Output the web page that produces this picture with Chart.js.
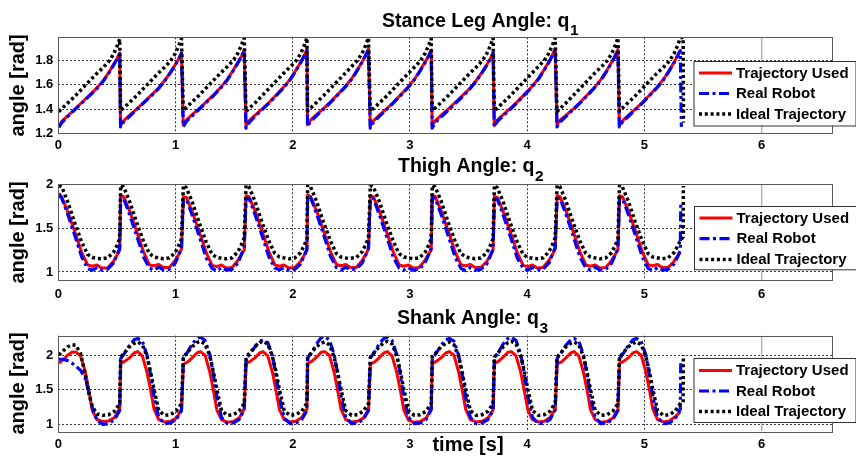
<!DOCTYPE html>
<html>
<head>
<meta charset="utf-8">
<title>Stance, thigh and shank angles</title>
<script src="https://cdn.jsdelivr.net/npm/chart.js@4.4.0/dist/chart.umd.min.js"></script>
<style>
  body { margin: 0; background: #fff; }
  #wrap { position: relative; width: 856px; height: 457px; overflow: hidden; background: #fff; }
  canvas { position: absolute; left: 0; }
</style>
</head>
<body>
<div id="wrap">
  <canvas id="c1" width="856" height="160" style="top:0px"></canvas>
  <canvas id="c2" width="856" height="160" style="top:150px"></canvas>
  <canvas id="c3" width="856" height="157" style="top:300px"></canvas>
</div>
<script>
// ---- data ----
const seriesNames = ["Trajectory Used", "Real Robot", "Ideal Trajectory"];
const timeTicks = [0, 1, 2, 3, 4, 5, 6];
// time [s] at which each stride starts (impact / leg swap)
const strideStart = [0, 0.527, 1.062, 1.597, 2.122, 2.657, 3.185, 3.715, 4.25, 4.782];

// Stance leg angle q1 : one row per stride, sampled at q1Phase (s after stride start)
const q1Ticks = [1.2, 1.4, 1.6, 1.8];
const q1Phase = [0.004, 0.03, 0.08, 0.14, 0.2, 0.26, 0.32, 0.38, 0.43, 0.47, 0.5, 0.524];
const q1Used = [
  [1.26, 1.30, 1.345, 1.40, 1.455, 1.51, 1.565, 1.63, 1.70, 1.765, 1.815, 1.86],
  [1.27, 1.305, 1.35, 1.40, 1.455, 1.51, 1.565, 1.635, 1.705, 1.765, 1.815, 1.86],
  [1.27, 1.31, 1.355, 1.405, 1.46, 1.515, 1.575, 1.645, 1.72, 1.785, 1.835, 1.885],
  [1.265, 1.305, 1.35, 1.40, 1.455, 1.515, 1.575, 1.645, 1.72, 1.785, 1.84, 1.89],
  [1.27, 1.31, 1.355, 1.405, 1.46, 1.52, 1.58, 1.65, 1.725, 1.79, 1.845, 1.895],
  [1.265, 1.305, 1.35, 1.40, 1.455, 1.515, 1.575, 1.645, 1.72, 1.785, 1.835, 1.885],
  [1.27, 1.305, 1.35, 1.40, 1.455, 1.51, 1.565, 1.635, 1.705, 1.765, 1.815, 1.865],
  [1.265, 1.31, 1.355, 1.405, 1.46, 1.52, 1.58, 1.65, 1.725, 1.79, 1.845, 1.895],
  [1.27, 1.31, 1.35, 1.40, 1.455, 1.515, 1.575, 1.645, 1.72, 1.785, 1.84, 1.89],
  [1.265, 1.305, 1.35, 1.40, 1.455, 1.515, 1.575, 1.645, 1.72, 1.785, 1.84, 1.885]
];
const q1Robot = [
  [1.25, 1.29, 1.34, 1.395, 1.45, 1.505, 1.56, 1.625, 1.695, 1.76, 1.81, 1.855],
  [1.255, 1.295, 1.34, 1.395, 1.45, 1.505, 1.56, 1.63, 1.70, 1.76, 1.81, 1.86],
  [1.255, 1.30, 1.345, 1.40, 1.455, 1.51, 1.57, 1.64, 1.715, 1.78, 1.83, 1.88],
  [1.245, 1.29, 1.34, 1.395, 1.45, 1.51, 1.57, 1.64, 1.715, 1.78, 1.835, 1.885],
  [1.26, 1.30, 1.345, 1.40, 1.455, 1.515, 1.575, 1.645, 1.72, 1.785, 1.84, 1.89],
  [1.245, 1.29, 1.34, 1.395, 1.45, 1.51, 1.57, 1.64, 1.715, 1.78, 1.83, 1.88],
  [1.245, 1.29, 1.335, 1.39, 1.445, 1.50, 1.56, 1.63, 1.70, 1.76, 1.81, 1.86],
  [1.255, 1.30, 1.345, 1.40, 1.455, 1.515, 1.575, 1.645, 1.72, 1.785, 1.84, 1.89],
  [1.255, 1.295, 1.34, 1.395, 1.45, 1.51, 1.57, 1.64, 1.715, 1.78, 1.835, 1.885],
  [1.255, 1.295, 1.34, 1.395, 1.45, 1.51, 1.57, 1.64, 1.715, 1.78, 1.835, 1.88]
];
const q1RobotTail = [[5.315, 1.255]];
const q1Ideal = [
  [1.38, 1.405, 1.45, 1.505, 1.565, 1.625, 1.685, 1.74, 1.79, 1.85, 1.915, 1.975],
  [1.39, 1.41, 1.455, 1.51, 1.57, 1.63, 1.69, 1.745, 1.795, 1.855, 1.92, 1.98],
  [1.39, 1.415, 1.46, 1.515, 1.575, 1.635, 1.695, 1.75, 1.80, 1.86, 1.925, 1.985],
  [1.38, 1.405, 1.45, 1.51, 1.57, 1.63, 1.69, 1.745, 1.795, 1.855, 1.92, 1.985],
  [1.385, 1.41, 1.455, 1.51, 1.57, 1.63, 1.69, 1.75, 1.80, 1.86, 1.925, 1.985],
  [1.38, 1.405, 1.45, 1.505, 1.565, 1.625, 1.685, 1.745, 1.795, 1.855, 1.92, 1.98],
  [1.39, 1.41, 1.455, 1.51, 1.57, 1.63, 1.69, 1.745, 1.795, 1.855, 1.92, 1.985],
  [1.385, 1.41, 1.455, 1.51, 1.57, 1.63, 1.69, 1.75, 1.80, 1.86, 1.925, 1.985],
  [1.38, 1.405, 1.45, 1.51, 1.57, 1.63, 1.69, 1.745, 1.795, 1.855, 1.92, 1.985],
  [1.385, 1.41, 1.455, 1.51, 1.57, 1.63, 1.69, 1.745, 1.795, 1.855, 1.92, 1.985]
];
const q1IdealTail = [[5.33, 1.99], [5.333, 1.29]];

// Thigh angle q2
const q2Ticks = [1, 1.5, 2];
const q2Phase = [0.005, 0.03, 0.08, 0.14, 0.2, 0.25, 0.29, 0.33, 0.37, 0.42, 0.47, 0.5, 0.524];
const q2Used = [
  [1.90, 1.85, 1.69, 1.46, 1.22, 1.08, 1.065, 1.08, 1.045, 1.045, 1.12, 1.19, 1.25],
  [1.87, 1.86, 1.70, 1.47, 1.23, 1.08, 1.07, 1.085, 1.05, 1.05, 1.13, 1.20, 1.26],
  [1.86, 1.85, 1.69, 1.46, 1.22, 1.075, 1.06, 1.08, 1.045, 1.05, 1.13, 1.20, 1.25],
  [1.87, 1.86, 1.70, 1.47, 1.23, 1.08, 1.065, 1.08, 1.045, 1.05, 1.12, 1.19, 1.25],
  [1.88, 1.86, 1.70, 1.47, 1.23, 1.085, 1.07, 1.085, 1.05, 1.05, 1.13, 1.20, 1.26],
  [1.87, 1.86, 1.70, 1.47, 1.23, 1.08, 1.065, 1.08, 1.045, 1.05, 1.13, 1.20, 1.25],
  [1.88, 1.86, 1.70, 1.47, 1.23, 1.08, 1.07, 1.085, 1.05, 1.05, 1.12, 1.19, 1.25],
  [1.86, 1.85, 1.69, 1.46, 1.22, 1.075, 1.06, 1.08, 1.045, 1.05, 1.13, 1.20, 1.26],
  [1.87, 1.86, 1.70, 1.47, 1.23, 1.08, 1.065, 1.08, 1.045, 1.05, 1.13, 1.20, 1.25],
  [1.87, 1.86, 1.70, 1.47, 1.23, 1.08, 1.07, 1.085, 1.05, 1.05, 1.12, 1.18, 1.22]
];
const q2Robot = [
  [1.88, 1.84, 1.66, 1.42, 1.17, 1.04, 1.02, 1.05, 1.02, 1.03, 1.10, 1.19, 1.27],
  [1.84, 1.84, 1.66, 1.42, 1.17, 1.045, 1.02, 1.055, 1.025, 1.03, 1.10, 1.19, 1.27],
  [1.83, 1.83, 1.65, 1.41, 1.16, 1.04, 1.01, 1.05, 1.02, 1.03, 1.10, 1.20, 1.28],
  [1.84, 1.84, 1.66, 1.42, 1.17, 1.045, 1.025, 1.05, 1.02, 1.03, 1.09, 1.18, 1.26],
  [1.85, 1.85, 1.67, 1.43, 1.18, 1.05, 1.02, 1.055, 1.025, 1.035, 1.10, 1.19, 1.27],
  [1.84, 1.84, 1.66, 1.42, 1.17, 1.045, 1.02, 1.05, 1.02, 1.03, 1.10, 1.19, 1.27],
  [1.85, 1.84, 1.66, 1.42, 1.17, 1.04, 1.015, 1.05, 1.02, 1.03, 1.09, 1.18, 1.26],
  [1.83, 1.83, 1.65, 1.41, 1.16, 1.04, 1.02, 1.05, 1.025, 1.03, 1.10, 1.20, 1.28],
  [1.84, 1.84, 1.66, 1.42, 1.17, 1.045, 1.02, 1.055, 1.02, 1.03, 1.10, 1.19, 1.27],
  [1.84, 1.84, 1.66, 1.42, 1.17, 1.04, 1.015, 1.05, 1.02, 1.03, 1.09, 1.17, 1.25]
];
const q2RobotTail = [[5.31, 1.78]];
const q2Ideal = [
  [1.99, 1.97, 1.80, 1.56, 1.34, 1.20, 1.165, 1.155, 1.15, 1.16, 1.22, 1.30, 1.38],
  [1.99, 1.97, 1.81, 1.57, 1.35, 1.21, 1.17, 1.16, 1.15, 1.16, 1.22, 1.30, 1.38],
  [1.99, 1.96, 1.80, 1.56, 1.34, 1.20, 1.165, 1.155, 1.15, 1.16, 1.23, 1.31, 1.39],
  [1.99, 1.97, 1.81, 1.57, 1.35, 1.21, 1.17, 1.16, 1.15, 1.16, 1.22, 1.30, 1.38],
  [1.99, 1.97, 1.81, 1.57, 1.35, 1.21, 1.17, 1.16, 1.155, 1.165, 1.23, 1.31, 1.39],
  [1.99, 1.97, 1.81, 1.57, 1.35, 1.21, 1.17, 1.16, 1.15, 1.16, 1.22, 1.30, 1.38],
  [1.99, 1.97, 1.81, 1.57, 1.35, 1.21, 1.17, 1.16, 1.15, 1.16, 1.22, 1.30, 1.38],
  [1.99, 1.96, 1.80, 1.56, 1.34, 1.20, 1.165, 1.155, 1.15, 1.16, 1.23, 1.31, 1.39],
  [1.99, 1.97, 1.81, 1.57, 1.35, 1.21, 1.17, 1.16, 1.15, 1.16, 1.22, 1.30, 1.38],
  [1.99, 1.97, 1.81, 1.57, 1.35, 1.21, 1.17, 1.16, 1.15, 1.16, 1.22, 1.29, 1.36]
];
const q2IdealTail = [[5.33, 1.40], [5.332, 1.98]];

// Shank angle q3
const q3Ticks = [1, 1.5, 2];
const q3Phase = [0.005, 0.04, 0.08, 0.12, 0.15, 0.19, 0.23, 0.26, 0.29, 0.33, 0.38, 0.43, 0.48, 0.524];
const q3Used = [
  [1.88, 1.93, 2.00, 2.045, 2.04, 1.99, 1.76, 1.50, 1.20, 1.07, 1.04, 1.05, 1.10, 1.23],
  [1.88, 1.91, 1.96, 2.03, 2.05, 1.99, 1.75, 1.50, 1.22, 1.07, 1.035, 1.045, 1.09, 1.21],
  [1.87, 1.90, 1.96, 2.03, 2.05, 2.00, 1.76, 1.50, 1.21, 1.07, 1.03, 1.04, 1.09, 1.22],
  [1.88, 1.91, 1.96, 2.03, 2.05, 1.99, 1.75, 1.49, 1.21, 1.07, 1.035, 1.045, 1.10, 1.22],
  [1.88, 1.91, 1.97, 2.04, 2.05, 2.00, 1.76, 1.50, 1.22, 1.07, 1.035, 1.045, 1.09, 1.21],
  [1.87, 1.90, 1.96, 2.03, 2.05, 1.99, 1.75, 1.50, 1.21, 1.06, 1.03, 1.04, 1.09, 1.22],
  [1.88, 1.91, 1.96, 2.03, 2.05, 2.00, 1.76, 1.50, 1.22, 1.07, 1.035, 1.045, 1.09, 1.21],
  [1.88, 1.91, 1.97, 2.04, 2.05, 1.99, 1.75, 1.49, 1.21, 1.07, 1.035, 1.045, 1.10, 1.22],
  [1.87, 1.90, 1.96, 2.03, 2.05, 1.99, 1.75, 1.50, 1.21, 1.07, 1.03, 1.04, 1.09, 1.21],
  [1.88, 1.91, 1.96, 2.03, 2.05, 2.00, 1.76, 1.50, 1.22, 1.07, 1.035, 1.05, 1.11, 1.18]
];
const q3Robot = [
  [1.94, 1.94, 1.92, 1.88, 1.84, 1.78, 1.66, 1.47, 1.24, 1.06, 1.00, 1.01, 1.07, 1.20],
  [1.95, 2.03, 2.14, 2.22, 2.24, 2.20, 2.00, 1.72, 1.40, 1.10, 1.01, 1.02, 1.07, 1.20],
  [1.96, 2.04, 2.16, 2.24, 2.26, 2.21, 2.01, 1.73, 1.41, 1.10, 1.01, 1.02, 1.07, 1.21],
  [1.95, 2.02, 2.12, 2.20, 2.22, 2.18, 1.99, 1.71, 1.39, 1.09, 1.01, 1.02, 1.07, 1.20],
  [1.96, 2.04, 2.16, 2.25, 2.27, 2.22, 2.02, 1.74, 1.42, 1.10, 1.01, 1.02, 1.07, 1.20],
  [1.96, 2.04, 2.16, 2.24, 2.26, 2.21, 2.01, 1.73, 1.41, 1.10, 1.01, 1.02, 1.07, 1.21],
  [1.95, 2.03, 2.14, 2.22, 2.24, 2.20, 2.00, 1.72, 1.40, 1.10, 1.01, 1.02, 1.07, 1.20],
  [1.96, 2.04, 2.16, 2.24, 2.26, 2.21, 2.01, 1.73, 1.41, 1.10, 1.01, 1.02, 1.07, 1.21],
  [1.95, 2.03, 2.14, 2.22, 2.24, 2.20, 2.00, 1.72, 1.40, 1.10, 1.01, 1.02, 1.07, 1.20],
  [1.95, 2.03, 2.14, 2.22, 2.24, 2.20, 2.00, 1.72, 1.40, 1.10, 1.01, 1.02, 1.08, 1.22]
];
const q3RobotTail = [[5.31, 1.90]];
const q3Ideal = [
  [2.00, 2.06, 2.12, 2.15, 2.14, 2.02, 1.72, 1.45, 1.26, 1.15, 1.13, 1.14, 1.19, 1.30],
  [1.97, 2.04, 2.12, 2.17, 2.19, 2.15, 1.98, 1.76, 1.50, 1.20, 1.13, 1.14, 1.19, 1.30],
  [1.97, 2.04, 2.12, 2.18, 2.20, 2.16, 1.99, 1.77, 1.51, 1.20, 1.13, 1.14, 1.19, 1.30],
  [1.97, 2.04, 2.12, 2.18, 2.20, 2.16, 1.98, 1.76, 1.50, 1.20, 1.13, 1.14, 1.19, 1.31],
  [1.97, 2.04, 2.12, 2.17, 2.19, 2.15, 1.98, 1.76, 1.50, 1.20, 1.13, 1.14, 1.19, 1.30],
  [1.97, 2.04, 2.12, 2.18, 2.20, 2.16, 1.99, 1.77, 1.51, 1.20, 1.13, 1.14, 1.19, 1.30],
  [1.97, 2.04, 2.12, 2.17, 2.19, 2.15, 1.98, 1.76, 1.50, 1.20, 1.13, 1.14, 1.19, 1.30],
  [1.97, 2.04, 2.12, 2.18, 2.20, 2.16, 1.99, 1.77, 1.51, 1.20, 1.13, 1.14, 1.19, 1.31],
  [1.97, 2.04, 2.12, 2.17, 2.19, 2.15, 1.98, 1.76, 1.50, 1.20, 1.13, 1.14, 1.19, 1.30],
  [1.97, 2.04, 2.12, 2.17, 2.19, 2.15, 1.98, 1.76, 1.50, 1.20, 1.13, 1.14, 1.19, 1.30]
];
const q3IdealTail = [[5.33, 1.32], [5.332, 2.00]];

// ---- drawing ----
const FONT = '"Liberation Sans", Arial, Helvetica, sans-serif';
Chart.defaults.font.family = FONT;
Chart.defaults.color = "#000";

// line look for the three series (same order as seriesNames)
const seriesStyle = [
  { color: "#ff0000", width: 3, dash: [], order: 3 },
  { color: "#0000ff", width: 3.2, dash: [10, 3.5, 3, 3.5], order: 2 },
  { color: "#000000", width: 3.5, dash: [3, 2.8], order: 1 }
];

function strideRowsToPoints(phase, rows, tail) {
  const pts = [];
  rows.forEach((row, k) => {
    row.forEach((v, i) => pts.push({ x: strideStart[k] + phase[i], y: v }));
  });
  (tail || []).forEach(([x, y]) => pts.push({ x: x, y: y }));
  return pts;
}

const decorPlugin = {
  id: "decor",
  afterDraw(chart, args, o) {
    const { ctx, chartArea: a, scales } = chart;
    ctx.save();

    // light solid grid line at t = 6
    const x6 = scales.x.getPixelForValue(6);
    ctx.strokeStyle = "#b4b4b4";
    ctx.lineWidth = 1.5;
    ctx.setLineDash([]);
    ctx.beginPath();
    ctx.moveTo(x6, a.top);
    ctx.lineTo(x6, a.bottom);
    ctx.stroke();

    // axes box
    ctx.strokeStyle = "#5a5a5a";
    ctx.lineWidth = 1;
    ctx.strokeRect(Math.round(a.left) + 0.5, Math.round(a.top) + 0.5,
      Math.round(a.right - a.left), Math.round(a.bottom - a.top));

    // legend inside the axes
    const lg = o.legend;
    ctx.fillStyle = "#fff";
    ctx.fillRect(lg.x, lg.y, lg.w, lg.h);
    ctx.strokeStyle = "#333";
    ctx.lineWidth = 1;
    ctx.strokeRect(lg.x + 0.5, lg.y + 0.5, lg.w, lg.h);
    ctx.font = "bold 15px " + FONT;
    ctx.textBaseline = "middle";
    ctx.textAlign = "left";
    chart.data.datasets.forEach((ds, i) => {
      const y = lg.y + lg.first + i * lg.step;
      ctx.strokeStyle = ds.borderColor;
      ctx.lineWidth = ds.borderWidth;
      ctx.setLineDash(ds.borderDash || []);
      ctx.beginPath();
      ctx.moveTo(lg.x + 5.5, y);
      ctx.lineTo(lg.x + 38.5, y);
      ctx.stroke();
      ctx.fillStyle = "#000";
      ctx.fillText(ds.label, lg.x + 42.5, y + 0.5);
    });
    ctx.setLineDash([]);

    // heading with subscript
    const h = o.heading;
    ctx.fillStyle = "#000";
    ctx.textBaseline = "alphabetic";
    ctx.font = "bold 19.5px " + FONT;
    ctx.fillText(h.text, h.x, h.y);
    const w = ctx.measureText(h.text).width;
    ctx.font = "bold 15.5px " + FONT;
    ctx.fillText(h.sub, h.x + w + 0.5, h.y + 8.5);

    // extra caption (time axis label)
    if (o.caption) {
      ctx.font = "bold 20px " + FONT;
      ctx.textAlign = "center";
      ctx.fillText(o.caption.text, o.caption.x, o.caption.y);
    }
    ctx.restore();
  }
};

function makeChart(id, p) {
  const datasets = [p.used, p.robot, p.ideal].map((pts, i) => ({
    label: seriesNames[i],
    data: pts,
    borderColor: seriesStyle[i].color,
    borderWidth: seriesStyle[i].width,
    borderDash: seriesStyle[i].dash,
    order: seriesStyle[i].order,
    pointRadius: 0,
    tension: 0,
    fill: false,
    borderJoinStyle: "round",
    borderCapStyle: "butt"
  }));
  const tickFont = { size: 13, weight: "bold" };
  return new Chart(document.getElementById(id), {
    type: "line",
    data: { datasets: datasets },
    options: {
      responsive: false,
      animation: false,
      events: [],
      layout: { padding: { top: p.padTop, right: 24, bottom: 0, left: 0 } },
      plugins: {
        legend: { display: false },
        tooltip: { enabled: false },
        decor: { legend: p.legend, heading: p.heading, caption: p.caption }
      },
      scales: {
        x: {
          type: "linear",
          min: 0,
          max: 6.6,
          afterBuildTicks: (s) => { s.ticks = timeTicks.map((v) => ({ value: v })); },
          afterFit: (s) => { s.height = p.xHeight; },
          ticks: { font: tickFont, color: "#000", padding: p.xPad, maxRotation: 0, autoSkip: false,
                   callback: (v) => String(v) },
          grid: { color: (c) => (c.tick && c.tick.value === 6 ? "rgba(0,0,0,0)" : "#3a3a3a"),
                  lineWidth: 1, drawTicks: false },
          border: { display: false, dash: [2, 2] }
        },
        y: {
          type: "linear",
          min: p.yMin,
          max: p.yMax,
          afterBuildTicks: (s) => { s.ticks = p.yTicks.map((v) => ({ value: v })); },
          afterFit: (s) => { s.width = 58.3; },
          ticks: { font: tickFont, color: "#000", padding: 5, callback: (v) => String(v) },
          grid: { color: "#3a3a3a", lineWidth: 1, drawTicks: false },
          border: { display: false, dash: [2, 2] },
          title: { display: true, text: "angle [rad]", color: "#000",
                   font: { size: 20, weight: "bold" }, padding: { top: 6, bottom: 0 } }
        }
      }
    },
    plugins: [decorPlugin]
  });
}

makeChart("c1", {
  used: strideRowsToPoints(q1Phase, q1Used),
  robot: strideRowsToPoints(q1Phase, q1Robot, q1RobotTail),
  ideal: strideRowsToPoints(q1Phase, q1Ideal, q1IdealTail),
  yMin: 1.2, yMax: 1.99, yTicks: q1Ticks,
  padTop: 37.3, xHeight: 26.4, xPad: 4,
  legend: { x: 693.5, y: 61, w: 162, h: 64.5, first: 12, step: 20.5 },
  heading: { text: "Stance Leg Angle: q", sub: "1", x: 382, y: 26.7 }
});

makeChart("c2", {
  used: strideRowsToPoints(q2Phase, q2Used),
  robot: strideRowsToPoints(q2Phase, q2Robot, q2RobotTail),
  ideal: strideRowsToPoints(q2Phase, q2Ideal, q2IdealTail),
  yMin: 0.9, yMax: 2.0, yTicks: q2Ticks,
  padTop: 34.3, xHeight: 29.3, xPad: 5.5,
  legend: { x: 694, y: 56, w: 162, h: 63.3, first: 12, step: 20.7 },
  heading: { text: "Thigh Angle: q", sub: "2", x: 398, y: 22.3 }
});

makeChart("c3", {
  used: strideRowsToPoints(q3Phase, q3Used),
  robot: strideRowsToPoints(q3Phase, q3Robot, q3RobotTail),
  ideal: strideRowsToPoints(q3Phase, q3Ideal, q3IdealTail),
  yMin: 0.9, yMax: 2.28, yTicks: q3Ticks,
  padTop: 35.7, xHeight: 25.7, xPad: 5,
  legend: { x: 693.5, y: 58, w: 162, h: 64, first: 12.5, step: 20.5 },
  heading: { text: "Shank Angle: q", sub: "3", x: 397, y: 24.3 },
  caption: { text: "time [s]", x: 468, y: 150.5 }
});
</script>
</body>
</html>
